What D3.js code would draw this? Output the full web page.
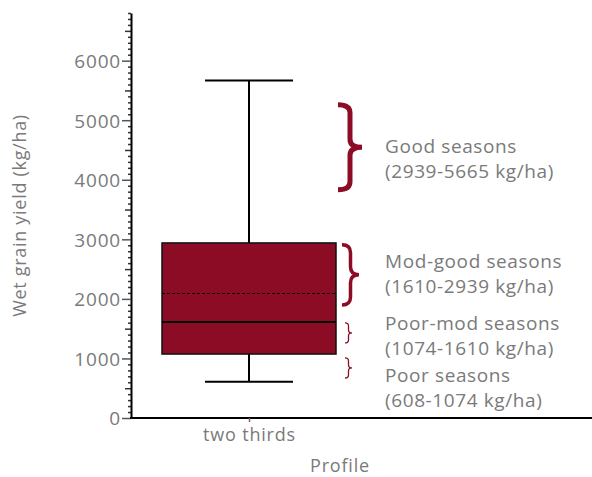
<!DOCTYPE html>
<html>
<head>
<meta charset="utf-8">
<script src="https://cdn.jsdelivr.net/npm/d3@7"></script>
<style>
  body { margin: 0; background: #fff; }
  svg text { font-family: "Open Sans", sans-serif; fill: #7a7a7a; }
</style>
</head>
<body>
<div id="chart"></div>
<script>
// box plot values (kg/ha)
const categories = ["two thirds"];
const whiskerLow = [608];
const q1 = [1074];
const median = [1610];
const q3 = [2939];
const whiskerHigh = [5665];
const mean = [2090];

const majorTicks = [0, 1000, 2000, 3000, 4000, 5000, 6000];

// season annotation: labels, ranges, brace extents in kg/ha
const seasonNames = ["Good seasons", "Mod-good seasons", "Poor-mod seasons", "Poor seasons"];
const seasonRanges = ["(2939-5665 kg/ha)", "(1610-2939 kg/ha)", "(1074-1610 kg/ha)", "(608-1074 kg/ha)"];
const braceTop = [5260, 2908, 1597, 1008];
const braceBottom = [3832, 1899, 1260, 672];

var width = 592, height = 477;
const margin = { left: 131, top: 13, right: 0, bottom: 59 };
var red = "#8c0c26";

var svg = d3.select("#chart").append("svg").attr("width", width).attr("height", height);

var y = d3.scaleLinear().domain([0, 6800]).range([height - margin.bottom, margin.top]);
var x = d3.scalePoint().domain(categories).range([margin.left, 367]).padding(0.5);
var boxW = 174, capW = 88;

// minor / medium ticks
var minor = d3.range(0, 6801, 100).filter(function(d) { return d % 1000 != 0; });
svg.append("g").attr("transform", "translate(" + margin.left + ",0)")
  .call(d3.axisLeft(y).tickValues(minor).tickSize(3).tickFormat(""))
  .call(function(g) {
    g.select(".domain").remove();
    g.selectAll(".tick line").attr("x2", function(d) { return d % 500 == 0 ? -6 : -3; })
      .attr("stroke", "#333").attr("stroke-width", 1.5);
  });

// major ticks + axis line
svg.append("g").attr("class", "yAxis").attr("transform", "translate(" + margin.left + ",0)")
  .call(d3.axisLeft(y).tickValues(majorTicks).tickSize(9).tickSizeOuter(0).tickPadding(1).tickFormat(d3.format("d")))
  .call(function(g) {
    g.select(".domain").attr("stroke", "#000").attr("stroke-width", 2);
    g.selectAll(".tick line").attr("stroke", "#555").attr("stroke-width", 1.5);
    g.selectAll(".tick text").attr("font-size", "19px").attr("fill", "#7a7a7a").attr("dy", "0.36em")
      .attr("letter-spacing", "0.8px").style("font-family", "Open Sans, sans-serif");
  });

// x axis line
svg.append("line").attr("x1", margin.left - 1).attr("x2", width)
  .attr("y1", y(0)).attr("y2", y(0)).attr("stroke", "#000").attr("stroke-width", 2);
svg.append("g").attr("transform", "translate(0," + y(0) + ")")
  .call(d3.axisBottom(x).tickSize(4).tickPadding(6))
  .call(function(g) {
    g.select(".domain").remove();
    g.selectAll(".tick line").attr("stroke", "#8a5a64").attr("stroke-width", 1.5);
    g.selectAll(".tick text").attr("font-size", "18px").attr("fill", "#7a7a7a").attr("letter-spacing", "0.8px")
      .style("font-family", "Open Sans, sans-serif");
  });

// axis titles
svg.append("text").attr("transform", "translate(26," + ((margin.top + y(0)) / 2) + ") rotate(-90)")
  .attr("text-anchor", "middle").attr("font-size", "18px").attr("letter-spacing", "0.7px")
  .text("Wet grain yield (kg/ha)");
svg.append("text").attr("x", 340).attr("y", 472).attr("text-anchor", "middle")
  .attr("font-size", "18px").attr("letter-spacing", "0.8px").text("Profile");

// box plot
var box = svg.selectAll(".box").data(categories).enter().append("g").attr("class", "box");
box.append("line").attr("x1", function(d) { return x(d); }).attr("x2", function(d) { return x(d); })
  .attr("y1", function(d, i) { return y(whiskerHigh[i]); }).attr("y2", function(d, i) { return y(whiskerLow[i]); })
  .attr("stroke", "#000").attr("stroke-width", 2);
box.append("line").attr("x1", function(d) { return x(d) - capW / 2; }).attr("x2", function(d) { return x(d) + capW / 2; })
  .attr("y1", function(d, i) { return y(whiskerHigh[i]); }).attr("y2", function(d, i) { return y(whiskerHigh[i]); })
  .attr("stroke", "#000").attr("stroke-width", 2);
box.append("line").attr("x1", function(d) { return x(d) - capW / 2; }).attr("x2", function(d) { return x(d) + capW / 2; })
  .attr("y1", function(d, i) { return y(whiskerLow[i]); }).attr("y2", function(d, i) { return y(whiskerLow[i]); })
  .attr("stroke", "#000").attr("stroke-width", 2);
box.append("rect").attr("x", function(d) { return x(d) - boxW / 2; }).attr("width", boxW)
  .attr("y", function(d, i) { return y(q3[i]); }).attr("height", function(d, i) { return y(q1[i]) - y(q3[i]); })
  .attr("fill", red).attr("stroke", "#111").attr("stroke-width", 1.5);
box.append("line").attr("x1", function(d) { return x(d) - boxW / 2; }).attr("x2", function(d) { return x(d) + boxW / 2; })
  .attr("y1", function(d, i) { return y(median[i]); }).attr("y2", function(d, i) { return y(median[i]); })
  .attr("stroke", "#000").attr("stroke-width", 2);
box.append("line").attr("x1", function(d) { return x(d) - boxW / 2; }).attr("x2", function(d) { return x(d) + boxW / 2; })
  .attr("y1", function(d, i) { return y(mean[i]); }).attr("y2", function(d, i) { return y(mean[i]); })
  .attr("stroke", "#000").attr("stroke-width", 1.2).attr("stroke-dasharray", "3,2");

// braces
function brace(x0, y0, y1, w) {
  var mid = (y0 + y1) / 2, xm = x0 + w * 0.5, r = Math.min(8, (y1 - y0) * 0.15);
  return "M" + x0 + "," + y0 +
    "Q" + xm + "," + y0 + " " + xm + "," + (y0 + r) +
    "L" + xm + "," + (mid - r) +
    "Q" + xm + "," + mid + " " + (x0 + w) + "," + mid +
    "Q" + xm + "," + mid + " " + xm + "," + (mid + r) +
    "L" + xm + "," + (y1 - r) +
    "Q" + xm + "," + y1 + " " + x0 + "," + y1;
}
var braceX = [338, 342, 345, 345], braceW = [24, 17, 7, 7], braceSW = [5, 3.5, 1.3, 1.3];
svg.selectAll(".brace").data(seasonNames).enter().append("path").attr("class", "brace")
  .attr("d", function(d, i) { return brace(braceX[i], y(braceTop[i]), y(braceBottom[i]), braceW[i]); })
  .attr("fill", "none").attr("stroke", red).attr("stroke-width", function(d, i) { return braceSW[i]; })
  .attr("stroke-linecap", "butt");

// season labels
var labelY = [153, 268, 330, 382];
var labels = svg.selectAll(".season").data(seasonNames).enter().append("text").attr("class", "season")
  .attr("x", 385).attr("y", function(d, i) { return labelY[i]; }).attr("font-size", "19px")
  .attr("letter-spacing", "0.6px");
labels.append("tspan").text(function(d) { return d; });
labels.append("tspan").attr("x", 385).attr("dy", 25).text(function(d, i) { return seasonRanges[i]; });
</script>
</body>
</html>
